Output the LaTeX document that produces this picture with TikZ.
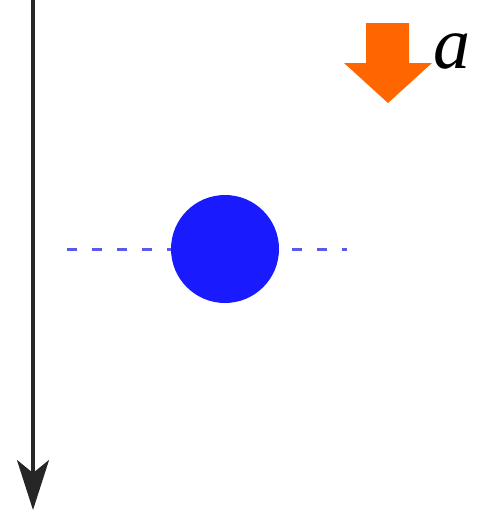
\documentclass[tikz,border=0pt]{standalone}
\usepackage{fontspec}
\newfontfamily\labelfont{Liberation Serif}
\usetikzlibrary{arrows.meta}
\definecolor{ballblue}{RGB}{26,26,255}
\definecolor{dashblue}{RGB}{90,90,240}
\definecolor{pushorange}{RGB}{255,102,0}
\begin{document}
\begin{tikzpicture}[
		x=0.5pt, y=-0.5pt,
		axis/.style={line width=1.6pt, black!85, -{Stealth[length=25pt, width=16pt, inset=6.5pt]}},
		level/.style={line width=1.5pt, dashblue, dash pattern=on 5pt off 7.5pt},
		ball/.style={circle, fill=ballblue, minimum size=54pt, inner sep=0pt},
		push/.style={fill=pushorange}
	]
		\useasboundingbox (0,0) rectangle (485,514);
		
		% vertical axis pointing down
		\coordinate (top) at (33,0);
		\coordinate (bottom) at (33,510);
		\draw[axis] (top) -- (bottom);
		
		% dashed level through the ball
		\coordinate (lvlL) at (67,249);
		\coordinate (lvlR) at (347,249);
		\draw[level] (lvlL) -- (lvlR);
		\node[ball] (ball) at (225,249) {};
		
		% acceleration arrow
		\fill[push] (366,23) -- (409,23) -- (409,63) -- (432,63) -- (388,103) -- (344,63) -- (366,63) -- cycle;
		\node[font=\labelfont\itshape\fontsize{37}{37}\selectfont, inner sep=0pt] (acc) at (452,51) {a};
	\end{tikzpicture}
\end{document}
